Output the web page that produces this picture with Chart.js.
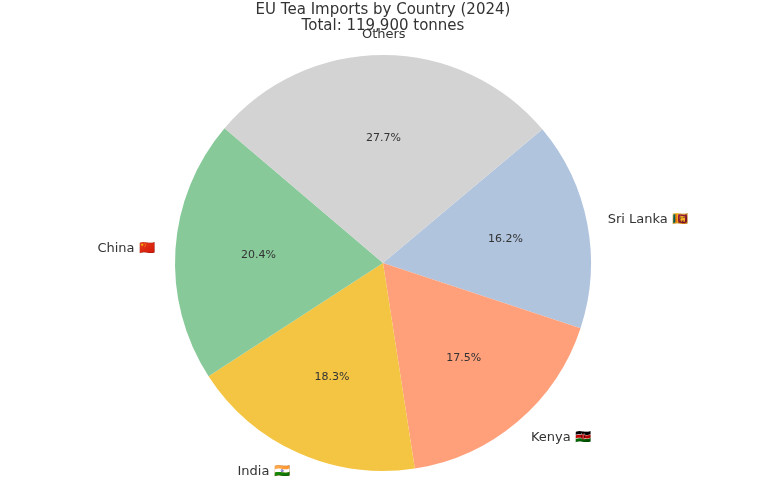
<!DOCTYPE html>
<html><head><meta charset="utf-8">
<script src="https://cdn.jsdelivr.net/npm/chart.js@4/dist/chart.umd.min.js"></script>
<style>html,body{margin:0;padding:0;background:#fff}#w{width:765px;height:500px}</style>
</head><body><div id="w"><canvas id="c"></canvas></div>
<script>
const labels = ["Sri Lanka 🇱🇰", "Kenya 🇰🇪", "India 🇮🇳", "China 🇨🇳", "Others"];
const shares = [16.2, 17.5, 18.3, 20.4, 27.7];
const colors = ["#b0c4de", "#ffa07a", "#f4c542", "#88c999", "#d3d3d3"];
const titleLines = ["EU Tea Imports by Country (2024)", "Total: 119,900 tonnes"];
const font = "'DejaVu Sans', sans-serif";

const labelPlugin = {
  id: 'lbl',
  afterDraw(chart) {
    const ctx = chart.ctx;
    const meta = chart.getDatasetMeta(0);
    ctx.save();
    meta.data.forEach((arc, i) => {
      const mid = (arc.startAngle + arc.endAngle) / 2;
      const r = arc.outerRadius;
      const cx = arc.x, cy = arc.y;
      ctx.fillStyle = '#333';
      ctx.font = '11px ' + font;
      ctx.textAlign = 'center'; ctx.textBaseline = 'middle';
      ctx.fillText(shares[i].toFixed(1) + '%', cx + Math.cos(mid) * r * 0.6, cy + Math.sin(mid) * r * 0.6);
      ctx.font = '13px ' + font;
      const lx = cx + Math.cos(mid) * r * 1.1, ly = cy + Math.sin(mid) * r * 1.1;
      const c = Math.cos(mid);
      ctx.textAlign = Math.abs(c) < 0.1 ? 'center' : (c > 0 ? 'left' : 'right');
      ctx.fillText(labels[i], lx, ly);
    });
    ctx.font = '15px ' + font;
    ctx.textAlign = 'center'; ctx.textBaseline = 'middle';
    ctx.fillStyle = '#333';
    ctx.fillText(titleLines[0], 383, 10);
    ctx.fillText(titleLines[1], 383, 26);
    ctx.restore();
  }
};

new Chart(document.getElementById('c'), {
  type: 'pie',
  data: { labels, datasets: [{ data: shares, backgroundColor: colors, borderWidth: 0 }] },
  options: {
    responsive: true, maintainAspectRatio: false, animation: false,
    rotation: 50,
    layout: { padding: { top: 55, bottom: 29, left: 175, right: 174 } },
    plugins: { legend: { display: false }, title: { display: false }, tooltip: { enabled: false } }
  },
  plugins: [labelPlugin]
});
</script></body></html>
